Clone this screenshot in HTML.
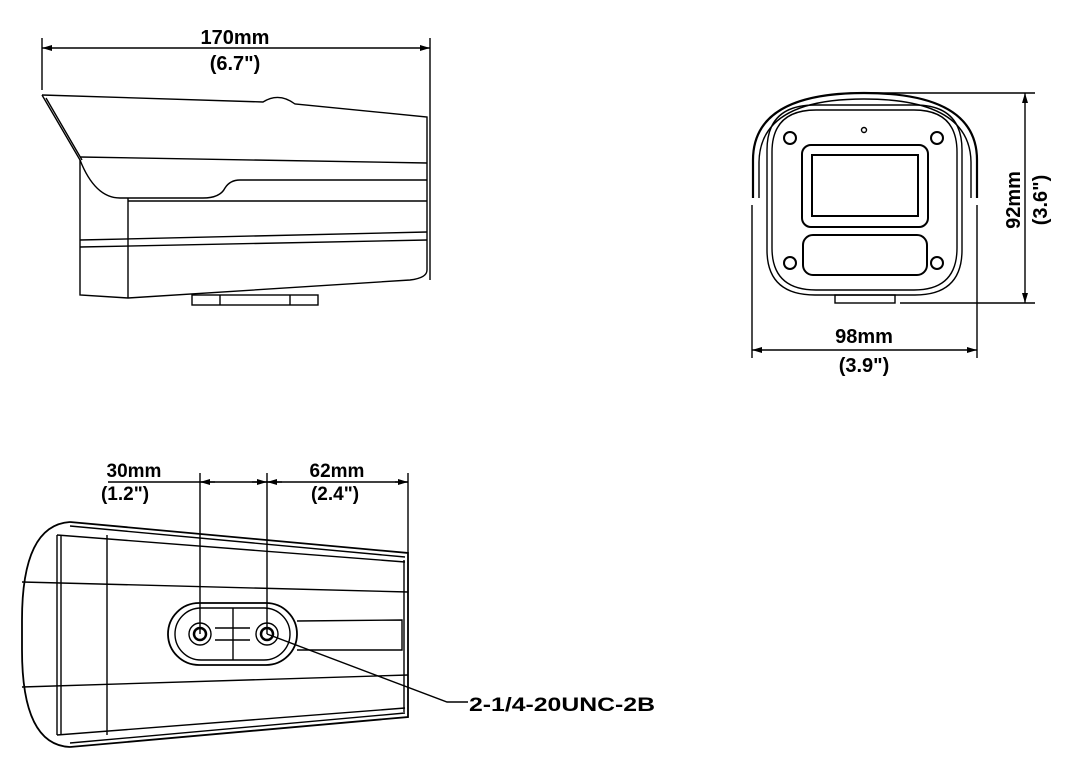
<!DOCTYPE html>
<html><head><style>html,body{margin:0;padding:0;background:#fff}svg{display:block}
text{font-family:"Liberation Sans",sans-serif;font-weight:bold;fill:#000}</style></head>
<body>
<svg width="1081" height="776" viewBox="0 0 1081 776" xmlns="http://www.w3.org/2000/svg">
<defs><marker id="a" viewBox="0 0 10 6" refX="10" refY="3" markerWidth="10" markerHeight="6" orient="auto-start-reverse" markerUnits="userSpaceOnUse"><path d="M0,0 L10,3 L0,6 Z" fill="#000"/></marker></defs>
<g fill="none" stroke="#000" stroke-width="1.4">
<!-- top side view -->
<line x1="42" y1="38" x2="42" y2="90"/><line x1="430" y1="38" x2="430" y2="280"/>
<line x1="42" y1="48" x2="430" y2="48" marker-start="url(#a)" marker-end="url(#a)"/>
<path d="M42,95 L263,102 Q279,92 295,104 L427,117 L427,180"/>
<path d="M42,95 L80,160 Q95,198 120,198 L203,198 Q220,198 225,188 Q230,180 240,180 L427,180"/>
<path d="M46,98 L82,160"/>
<path d="M80,157 L427,163"/>
<path d="M80,160 L80,295 L128,298 L410,280 Q427,278 427,270 L427,180"/>
<line x1="128" y1="198" x2="128" y2="298"/>
<line x1="128" y1="201" x2="427" y2="201"/>
<path d="M80,240 L427,232"/><path d="M80,247 L427,240"/>
<rect x="192" y="295" width="126" height="10"/>
<line x1="220" y1="295" x2="220" y2="305"/><line x1="290" y1="295" x2="290" y2="305"/>
<!-- front view -->
<path d="M753,198 L753,160 Q753,93 864,93 Q977,93 977,160 L977,198" stroke-width="2.2"/>
<path d="M759,198 L759,162 Q760,99 864,99 Q970,99 971,162 L971,198"/>
<path d="M767,150 Q767,105 815,105 L915,105 Q962,105 962,150 L962,250 Q962,295 915,295 L815,295 Q767,295 767,250 Z"/>
<path d="M772,152 Q772,110 816,110 L914,110 Q957,110 957,152 L957,248 Q957,290 914,290 L816,290 Q772,290 772,248 Z"/>
<rect x="835" y="295" width="60" height="8"/>
<rect x="802" y="145" width="126" height="82" rx="9" stroke-width="2"/>
<rect x="812" y="155" width="106" height="61" stroke-width="2"/>
<rect x="803" y="235" width="124" height="40" rx="10" stroke-width="2"/>
<g stroke-width="2"><circle cx="790" cy="138" r="6"/><circle cx="937" cy="138" r="6"/><circle cx="790" cy="263" r="6"/><circle cx="937" cy="263" r="6"/></g>
<circle cx="864" cy="130" r="2.5"/>
<line x1="864" y1="93" x2="1035" y2="93"/><line x1="900" y1="303" x2="1035" y2="303"/>
<line x1="1025" y1="93" x2="1025" y2="303" marker-start="url(#a)" marker-end="url(#a)"/>
<line x1="752" y1="205" x2="752" y2="358"/><line x1="977" y1="205" x2="977" y2="358"/>
<line x1="752" y1="350" x2="977" y2="350" marker-start="url(#a)" marker-end="url(#a)"/>
<!-- bottom view -->
<line x1="200" y1="473" x2="200" y2="634"/><line x1="267" y1="473" x2="267" y2="634"/>
<line x1="408" y1="473" x2="408" y2="553"/>
<line x1="108" y1="482" x2="408" y2="482"/>
<line x1="215" y1="482" x2="200" y2="482" marker-end="url(#a)"/>
<line x1="252" y1="482" x2="267" y2="482" marker-end="url(#a)"/>
<line x1="282" y1="482" x2="267" y2="482" marker-end="url(#a)"/>
<line x1="395" y1="482" x2="408" y2="482" marker-end="url(#a)"/>
<path d="M70,522 Q22,525 22,620 L22,650 Q22,745 70,747" stroke-width="1.8"/>
<path d="M70,522 L408,553 L408,717 L70,747" stroke-width="1.8"/>
<path d="M70,526 L405,557"/><path d="M70,743 L405,713"/>
<path d="M57,535 L57,735"/><path d="M61,535 L61,735"/>
<path d="M57,535 L405,562"/><path d="M57,735 L405,708"/>
<line x1="107" y1="535" x2="107" y2="735"/>
<line x1="404" y1="560" x2="404" y2="712"/>
<path d="M22,582 L408,592"/><path d="M22,687 L408,675"/>
<rect x="168" y="603" width="129" height="62" rx="31" stroke-width="1.8"/>
<rect x="175" y="608" width="115" height="52" rx="26"/>
<line x1="233" y1="608" x2="233" y2="660"/><line x1="215" y1="628" x2="250" y2="628"/><line x1="215" y1="640" x2="250" y2="640"/>
<circle cx="200" cy="634" r="11"/><circle cx="200" cy="634" r="6" stroke-width="2.5"/>
<circle cx="267" cy="634" r="11"/><circle cx="267" cy="634" r="6" stroke-width="2.5"/>
<path d="M297,621 L402,620 L402,650 L297,650"/>
<path d="M267,634 L447,702 L468,702"/>
</g>
<text x="235" y="44" font-size="20" text-anchor="middle">170mm</text>
<text x="235" y="70" font-size="20" text-anchor="middle">(6.7")</text>
<text x="864" y="343" font-size="20" text-anchor="middle">98mm</text>
<text x="864" y="372" font-size="20" text-anchor="middle">(3.9")</text>
<text transform="translate(1020,200) rotate(-90)" font-size="20" text-anchor="middle">92mm</text>
<text transform="translate(1047,200) rotate(-90)" font-size="20" text-anchor="middle">(3.6")</text>
<text x="134" y="477" font-size="19" text-anchor="middle">30mm</text>
<text x="125" y="500" font-size="19" text-anchor="middle">(1.2")</text>
<text x="337" y="477" font-size="19" text-anchor="middle">62mm</text>
<text x="335" y="500" font-size="19" text-anchor="middle">(2.4")</text>
<text x="469" y="711" font-size="19" textLength="186" lengthAdjust="spacingAndGlyphs">2-1/4-20UNC-2B</text>
</svg>
</body></html>
